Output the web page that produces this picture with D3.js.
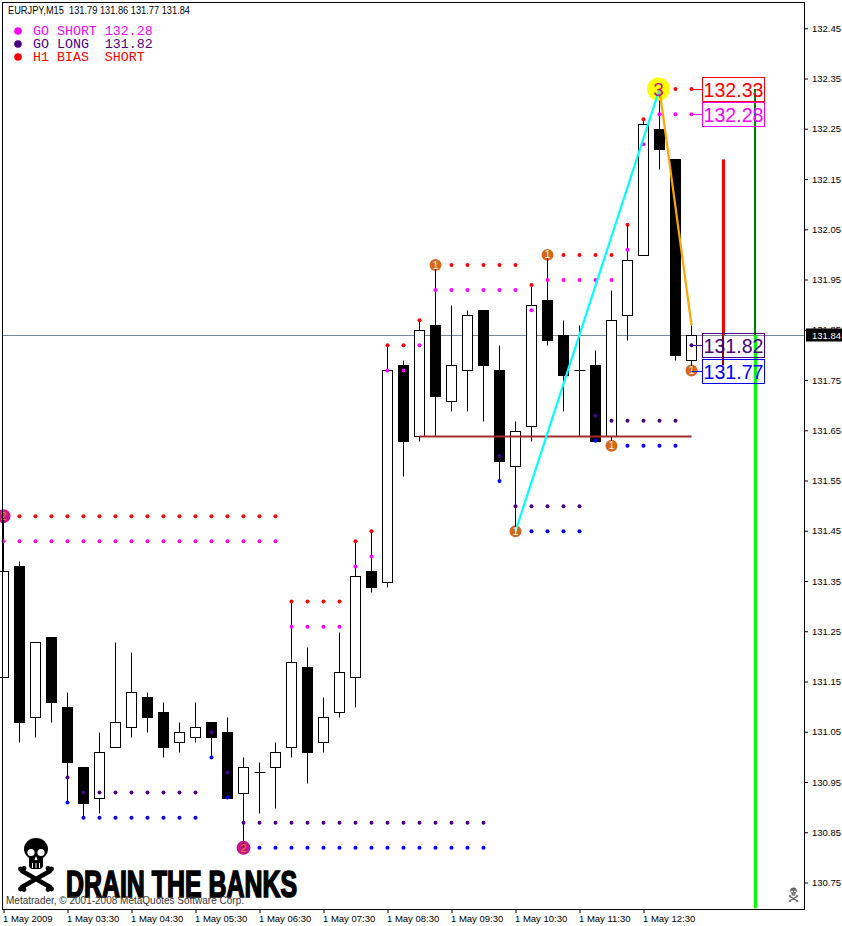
<!DOCTYPE html>
<html><head><meta charset="utf-8">
<style>
html,body{margin:0;padding:0;background:#fff}
svg{display:block}
text{white-space:pre}
.axis text{font-family:"Liberation Sans",sans-serif;font-size:9.5px;fill:#000}
</style>
<script src="https://cdn.jsdelivr.net/npm/d3@7/dist/d3.min.js"></script>
</head><body><div id="chart"></div>
<script>
const opens  = [131.16,131.38,131.08,131.24,131.10,130.98,130.92,131.02,131.06,131.12,131.09,131.03,131.04,131.07,131.05,130.93,130.97,130.98,131.02,131.18,131.03,131.09,131.16,131.37,131.35,131.78,131.64,131.86,131.71,131.77,131.89,131.77,131.58,131.66,131.91,131.84,131.77,131.78,131.64,131.88,132.00,132.25,132.19,131.79];
const highs  = [131.48,131.39,131.23,131.24,131.13,130.98,131.05,131.23,131.21,131.13,131.11,131.07,131.11,131.07,131.08,131.00,130.99,131.03,131.31,131.22,131.12,131.25,131.43,131.45,131.82,131.79,131.87,131.98,131.90,131.89,131.89,131.82,131.67,131.94,132.00,131.87,131.86,131.81,131.93,132.06,132.27,132.33,132.19,131.86];
const lows   = [131.16,131.03,131.04,131.07,130.91,130.88,130.89,131.02,131.04,131.05,131.00,131.01,131.03,131.00,130.92,130.82,130.89,130.90,131.00,130.95,131.01,131.08,131.10,131.33,131.34,131.56,131.63,131.64,131.69,131.69,131.67,131.55,131.45,131.63,131.82,131.69,131.64,131.63,131.62,131.83,132.00,132.17,131.79,131.77];
const closes = [131.37,131.07,131.23,131.11,130.99,130.91,131.01,131.07,131.13,131.08,131.02,131.05,131.06,131.04,130.92,130.98,130.97,131.01,131.19,131.01,131.08,131.17,131.36,131.34,131.77,131.63,131.85,131.72,131.78,131.88,131.78,131.59,131.65,131.90,131.83,131.76,131.77,131.63,131.87,131.99,132.26,132.21,131.80,131.84];

const redDots = [131.48,131.48,131.48,131.48,131.48,131.48,131.48,131.48,131.48,131.48,131.48,131.48,131.48,131.48,131.48,131.48,131.48,131.48,131.31,131.31,131.31,131.31,131.43,131.45,131.82,131.82,131.87,131.98,131.98,131.98,131.98,131.98,131.98,131.94,132.00,132.00,132.00,132.00,132.00,132.06,132.27,132.33,132.33,132.33];
const magentaDots = [131.43,131.43,131.43,131.43,131.43,131.43,131.43,131.43,131.43,131.43,131.43,131.43,131.43,131.43,131.43,131.43,131.43,131.43,131.26,131.26,131.26,131.26,131.38,131.40,131.77,131.77,131.82,131.93,131.93,131.93,131.93,131.93,131.93,131.89,131.95,131.95,131.95,131.95,131.95,132.01,132.22,132.28,132.28,132.28];
const purpleDots = [null,null,null,null,130.96,130.93,130.93,130.93,130.93,130.93,130.93,130.93,130.93,131.05,130.97,130.87,130.87,130.87,130.87,130.87,130.87,130.87,130.87,130.87,130.87,130.87,130.87,130.87,130.87,130.87,130.87,131.60,131.50,131.50,131.50,131.50,131.50,131.68,131.67,131.67,131.67,131.67,131.67,131.82];
const blueDots = [null,null,null,null,130.91,130.88,130.88,130.88,130.88,130.88,130.88,130.88,130.88,131.00,130.92,130.82,130.82,130.82,130.82,130.82,130.82,130.82,130.82,130.82,130.82,130.82,130.82,130.82,130.82,130.82,130.82,131.55,131.45,131.45,131.45,131.45,131.45,131.63,131.62,131.62,131.62,131.62,131.62,131.77];

const markerIdx   = [0,15,27,34,32,38,43,41];
const markerPrice = [131.48,130.82,131.98,132.00,131.45,131.62,131.77,132.33];
const markerText  = ["2","2","1","1","1","1","1","3"];
const markerKind  = ["m","m","o","o","o","o","o","y"];

const upLegIdx = [32,41], upLegPrice = [131.45,132.33];
const downLegIdx = [41,43], downLegPrice = [132.33,131.86];
const supportIdx = [26,43], supportPrice = [131.64,131.64];

const priceTicks = [132.45,132.35,132.25,132.15,132.05,131.95,131.85,131.75,131.65,131.55,131.45,131.35,131.25,131.15,131.05,130.95,130.85,130.75];
const timeTickIdx = [0,4,8,12,16,20,24,28,32,36,40];
const timeTickLabels = ["1 May 2009","1 May 03:30","1 May 04:30","1 May 05:30","1 May 06:30","1 May 07:30","1 May 08:30","1 May 09:30","1 May 10:30","1 May 11:30","1 May 12:30"];

const lastPrice = 131.84;
const levelPrices = [132.33,132.28,131.82,131.77];
const levelColors = ["#ff0000","#ff00ff","#4b0082","#0000ff"];
const levelLabels = ["132.33","132.28","131.82","131.77"];
const redBarPrices = [132.19,131.84,131.78];
const greenBarPrices = [132.33,131.84,130.70];

const legendLines = ["GO SHORT 132.28","GO LONG  131.82","H1 BIAS  SHORT"];
const legendColors = ["#ff00ff","#4b0082","#ff0000"];
const headerText = "EURJPY,M15  131.79 131.86 131.77 131.84";
const copyrightText = "Metatrader, \u00a9 2001-2008 MetaQuotes Software Corp.";
const brandText = "DRAIN THE BANKS";

const W=842,H=926,L=2,R=804,T=2,B=909;
const x=d3.scaleLinear().domain([0,43]).range([3.5,691.5]);
const y=d3.scaleLinear().domain([132.35,130.75]).range([79,883]);
const py=v=>Math.round(y(v))+.5;

const svg=d3.select("#chart").append("svg").attr("width",W).attr("height",H).attr("viewBox",`0 0 ${W} ${H}`);
const plot=svg.append("g");
const idx=d3.range(opens.length);

plot.append("line").attr("x1",L).attr("x2",R).attr("y1",py(lastPrice)).attr("y2",py(lastPrice)).attr("stroke","#778899");

const c=plot.append("g").selectAll("g").data(idx).join("g");
c.append("line").attr("x1",i=>x(i)).attr("x2",i=>x(i)).attr("y1",i=>py(highs[i])).attr("y2",i=>py(lows[i])).attr("stroke","#000");
c.filter(i=>opens[i]!==closes[i]).append("rect")
 .attr("x",i=>x(i)-5).attr("width",10)
 .attr("y",i=>py(Math.max(opens[i],closes[i])))
 .attr("height",i=>py(Math.min(opens[i],closes[i]))-py(Math.max(opens[i],closes[i])))
 .attr("fill",i=>closes[i]>opens[i]?"#fff":"#000").attr("stroke","#000");
c.filter(i=>opens[i]===closes[i]).append("line")
 .attr("x1",i=>x(i)-5).attr("x2",i=>x(i)+6).attr("y1",i=>py(opens[i])).attr("y2",i=>py(opens[i])).attr("stroke","#000");

plot.append("line").attr("x1",x(supportIdx[0])).attr("x2",x(supportIdx[1])).attr("y1",py(supportPrice[0])).attr("y2",py(supportPrice[1])).attr("stroke","#a52a2a").attr("stroke-width",2);

const xRed=723.5,xGreen=755;
plot.append("line").attr("x1",xRed).attr("x2",xRed).attr("y1",y(redBarPrices[0])).attr("y2",y(redBarPrices[1])).attr("stroke","#ff0000").attr("stroke-width",3);
plot.append("line").attr("x1",xRed-.5).attr("x2",xRed-.5).attr("y1",y(redBarPrices[1])).attr("y2",y(redBarPrices[2])).attr("stroke","#8b0000").attr("stroke-width",2);
plot.append("line").attr("x1",xGreen).attr("x2",xGreen).attr("y1",y(greenBarPrices[0])).attr("y2",y(greenBarPrices[1])).attr("stroke","#008000").attr("stroke-width",2);
plot.append("line").attr("x1",xGreen+.5).attr("x2",xGreen+.5).attr("y1",y(greenBarPrices[1])).attr("y2",y(greenBarPrices[2])).attr("stroke","#00ff00").attr("stroke-width",3);

[[redDots,"#ff0000"],[magentaDots,"#ff00ff"],[purpleDots,"#4b0082"],[blueDots,"#0000ff"]].forEach(([arr,col])=>{
  plot.append("g").selectAll("circle").data(idx.filter(i=>arr[i]!==null)).join("circle")
   .attr("cx",i=>x(i)).attr("cy",i=>y(arr[i])).attr("r",2).attr("fill",col);
});

const mk=markerIdx.map((m,i)=>({i:m,p:markerPrice[i],t:markerText[i],k:markerKind[i]}));
const mFill={m:"#c71585",o:"#d2691e",y:"#ffff00"}, mR={m:7,o:6,y:11.5}, mTxt={m:"#e8882a",o:"#fff",y:"#c71585"}, mFs={m:11,o:10,y:19};
plot.append("g").selectAll("circle").data(mk).join("circle")
 .attr("cx",d=>x(d.i)-(d.k==="y"?1:0)).attr("cy",d=>y(d.p)).attr("r",d=>mR[d.k]).attr("fill",d=>mFill[d.k]);
plot.append("g").selectAll("line").data(mk).join("line")
 .attr("x1",d=>x(d.i)).attr("x2",d=>x(d.i))
 .attr("y1",d=>d.p>=highs[d.i]?py(d.p)+1:py(d.p)-7)
 .attr("y2",d=>d.p>=highs[d.i]?py(d.p)+8:py(d.p)-1)
 .attr("stroke","#000");
plot.append("line").attr("x1",x(upLegIdx[0])).attr("x2",x(upLegIdx[1])).attr("y1",y(upLegPrice[0])).attr("y2",y(upLegPrice[1])).attr("stroke","#00ffff").attr("stroke-width",2.2);
plot.append("line").attr("x1",x(downLegIdx[0])).attr("x2",x(downLegIdx[1])).attr("y1",y(downLegPrice[0])).attr("y2",y(downLegPrice[1])).attr("stroke","#ffa500").attr("stroke-width",2.2);
plot.append("g").selectAll("text").data(mk).join("text")
 .attr("x",d=>x(d.i)-(d.k==="y"?1:0)).attr("y",d=>y(d.p)+mFs[d.k]*.36).attr("text-anchor","middle")
 .attr("font-family","Liberation Sans, sans-serif").attr("font-size",d=>mFs[d.k]).attr("fill",d=>mTxt[d.k]).text(d=>d.t);

const levelNudge=[0,0,0,1];
const lb=plot.append("g").selectAll("g").data(levelPrices).join("g").attr("transform",(d,i)=>`translate(0,${levelNudge[i]})`);
lb.append("line").attr("x1",x(43)).attr("x2",702.5).attr("y1",d=>py(d)).attr("y2",d=>py(d)).attr("stroke",(d,i)=>levelColors[i]);
lb.append("rect").attr("x",702.5).attr("width",62).attr("y",d=>py(d)-12).attr("height",24).attr("fill","none").attr("stroke",(d,i)=>levelColors[i]);
lb.append("text").attr("x",733.5).attr("y",d=>py(d)+7.5).attr("text-anchor","middle")
 .attr("font-family","Liberation Sans, sans-serif").attr("font-size",21).attr("textLength",60).attr("lengthAdjust","spacingAndGlyphs")
 .attr("fill",(d,i)=>levelColors[i]).text((d,i)=>levelLabels[i]);

function skull(g,col,bg){
  g.append("ellipse").attr("cx",36).attr("cy",849).attr("rx",12).attr("ry",11).attr("fill",col);
  g.append("rect").attr("x",29).attr("y",855).attr("width",14).attr("height",14).attr("rx",4).attr("fill",col);
  g.append("circle").attr("cx",31).attr("cy",852.5).attr("r",3.6).attr("fill",bg);
  g.append("circle").attr("cx",41).attr("cy",852.5).attr("r",3.6).attr("fill",bg);
  g.append("path").attr("d","M36 856l1.6 4h-3.2z").attr("fill",bg);
  g.append("path").attr("d","M32.5 863v5M36 863v5M39.500 863v5").attr("stroke",bg).attr("stroke-width",1);
  g.append("path").attr("d","M22 871L50 887M50 871L22 887").attr("stroke",col).attr("stroke-width",4.5).attr("stroke-linecap","round");
  [[20.5,869],[24,868.5],[51.500,869],[48,868.5],[20.5,889],[24,889.5],[51.500,889],[48,889.5]].forEach(p=>
    g.append("circle").attr("cx",p[0]).attr("cy",p[1]).attr("r",2.4).attr("fill",col));
}
skull(svg.append("g"),"#000","#fff");
skull(svg.append("g").attr("transform","translate(793.5,894.5) scale(.27) translate(-36,-864)"),"#666","#fff");

svg.append("text").attr("x",66).attr("y",896.5).attr("font-family","Liberation Sans, sans-serif").attr("font-weight","bold")
 .attr("font-size",37).attr("textLength",231).attr("lengthAdjust","spacingAndGlyphs")
 .attr("fill","#000").attr("stroke","#000").attr("stroke-width",1.7).text(brandText);
svg.append("text").attr("x",6).attr("y",904).attr("font-family","Liberation Sans, sans-serif").attr("font-size",10.5)
 .attr("textLength",238).attr("lengthAdjust","spacingAndGlyphs").attr("fill","#333").text(copyrightText);

svg.append("rect").attr("x",L+.5).attr("y",T+.5).attr("width",R-L).attr("height",B-T).attr("fill","none").attr("stroke","#000");

const ay=svg.append("g").attr("class","axis").attr("transform",`translate(${R},-0.5)`)
 .call(d3.axisRight(y).tickValues(priceTicks).tickSize(4).tickPadding(4).tickFormat(d3.format(".2f")));
ay.select(".domain").remove();
ay.selectAll("line").attr("stroke","#000");
const ax=svg.append("g").attr("class","axis").attr("transform",`translate(0,${B})`)
 .call(d3.axisBottom(x).tickValues(timeTickIdx).tickSize(4).tickPadding(2).tickFormat((d,i)=>timeTickLabels[i]));
ax.select(".domain").remove();
ax.selectAll("line").attr("stroke","#000");
ax.selectAll("text").attr("text-anchor","start").attr("dx",-1);

svg.append("rect").attr("x",806).attr("y",py(lastPrice)-7).attr("width",36).attr("height",13).attr("fill","#000");
svg.append("text").attr("x",812).attr("y",py(lastPrice)+3).attr("font-family","Liberation Sans, sans-serif").attr("font-size",9.5).attr("fill","#fff").text(lastPrice.toFixed(2));

svg.append("text").attr("x",8).attr("y",14).attr("font-family","Liberation Sans, sans-serif").attr("font-size",10.5)
 .attr("textLength",182).attr("lengthAdjust","spacingAndGlyphs").attr("fill","#000").text(headerText);
const lg=svg.append("g").selectAll("g").data(legendLines).join("g").attr("transform",(d,i)=>`translate(0,${31+13*i})`);
lg.append("circle").attr("cx",18).attr("cy",0).attr("r",3.8).attr("fill",(d,i)=>legendColors[i]);
lg.append("text").attr("x",33).attr("y",4).attr("font-family","Liberation Mono, monospace").attr("font-size",13.3).attr("fill",(d,i)=>legendColors[i]).text(d=>d);
</script></body></html>
